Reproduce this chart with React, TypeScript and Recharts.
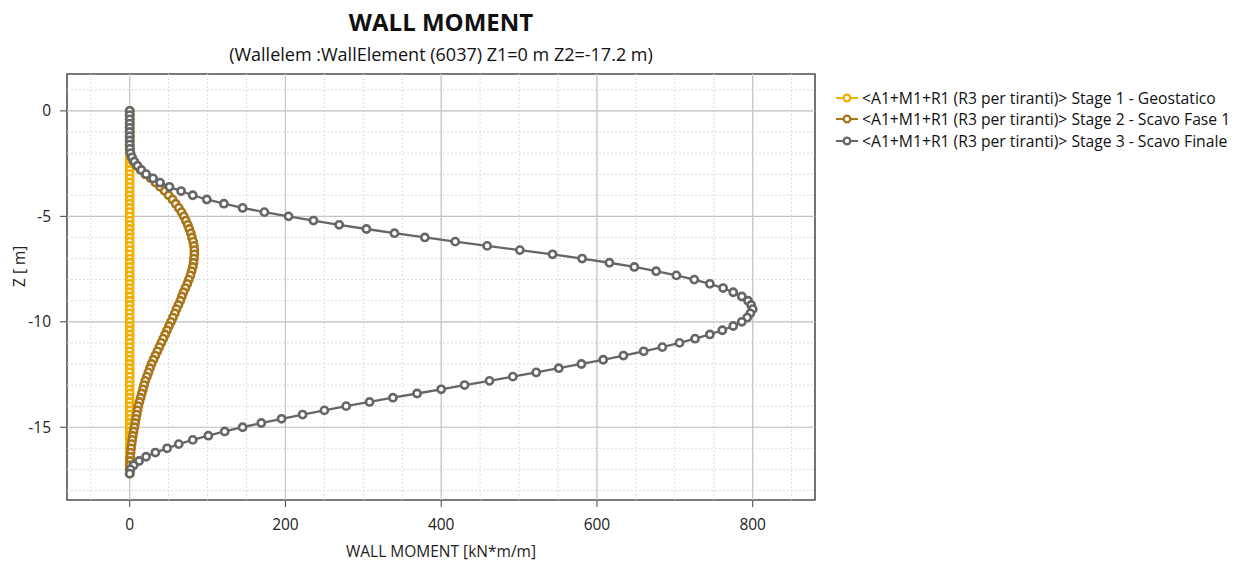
import { ScatterChart, Scatter, XAxis, YAxis, ReferenceLine, ReferenceArea } from "recharts";

// wall nodes depth (m)
const depth = [
  0, -0.2, -0.4, -0.6, -0.8, -1, -1.2, -1.4, -1.6, -1.8,
  -2, -2.2, -2.4, -2.6, -2.8, -3, -3.2, -3.4, -3.6, -3.8,
  -4, -4.2, -4.4, -4.6, -4.8, -5, -5.2, -5.4, -5.6, -5.8,
  -6, -6.2, -6.4, -6.6, -6.8, -7, -7.2, -7.4, -7.6, -7.8,
  -8, -8.2, -8.4, -8.6, -8.8, -9, -9.2, -9.4, -9.6, -9.8,
  -10, -10.2, -10.4, -10.6, -10.8, -11, -11.2, -11.4, -11.6, -11.8,
  -12, -12.2, -12.4, -12.6, -12.8, -13, -13.2, -13.4, -13.6, -13.8,
  -14, -14.2, -14.4, -14.6, -14.8, -15, -15.2, -15.4, -15.6, -15.8,
  -16, -16.2, -16.4, -16.6, -16.8, -17, -17.2,
];

const stage1 = [
  0, 0, 0, 0, 0, 0, 0, 0, 0, 0,
  0, 0, 0, 0, 0, 0, 0, 0, 0, 0,
  0, 0, 0, 0, 0, 0, 0, 0, 0, 0,
  0, 0, 0, 0, 0, 0, 0, 0, 0, 0,
  0, 0, 0, 0, 0, 0, 0, 0, 0, 0,
  0, 0, 0, 0, 0, 0, 0, 0, 0, 0,
  0, 0, 0, 0, 0, 0, 0, 0, 0, 0,
  0, 0, 0, 0, 0, 0, 0, 0, 0, 0,
  0, 0, 0, 0, 0, 0, 0,
];

const stage2 = [
  0, 0, 0, 0, 0, 0, 0, 0, 0, 0,
  0.5, 2, 5, 9, 14, 20, 27, 33, 39, 45,
  50, 55, 59, 63, 66.5, 69.5, 72, 74.5, 76.5, 78.5,
  80, 81.5, 82.5, 83, 83, 82.5, 82, 81, 79.5, 78,
  76, 74, 71.5, 69, 67, 65, 62.5, 60, 58, 55.5,
  53, 50.5, 48, 45.5, 43, 40.5, 38, 35.5, 33, 30.5,
  28, 26, 24, 22, 20, 18.5, 17, 15.5, 14, 12.5,
  11, 10, 9, 8, 7, 6, 5, 4, 3.2, 2.5,
  1.8, 1.2, 0.8, 0.4, 0.2, 0, 0,
];

const stage3 = [
  0, 0, 0, 0, 0, 0, 0, 0, 0, 0.3,
  1, 3, 6, 10, 15, 21, 30, 39, 51, 66,
  81, 99, 121, 145, 173, 204, 236, 269, 304, 340,
  379, 418, 459, 501, 543, 581, 616, 648, 676, 702,
  725, 745, 762, 775, 786, 794, 798, 800, 797, 793,
  786, 775, 761, 745, 726, 706, 684, 660, 634, 608,
  580, 551, 522, 492, 462, 430, 400, 369, 338, 308,
  278, 250, 222, 195, 169, 145, 122, 101, 81, 63,
  48, 33, 21, 12, 5, 1, 0,
];

const seriesNames = [
  "<A1+M1+R1 (R3 per tiranti)> Stage 1 - Geostatico",
  "<A1+M1+R1 (R3 per tiranti)> Stage 2 - Scavo Fase 1",
  "<A1+M1+R1 (R3 per tiranti)> Stage 3 - Scavo Finale",
];
const seriesColors = ["#EFB000", "#A8761A", "#666666"];

const xMajor = [0, 200, 400, 600, 800];
const xMinor = [-50, 0, 50, 100, 150, 200, 250, 300, 350, 400, 450, 500, 550, 600, 650, 700, 750, 800, 850];
const yMajor = [0, -5, -10, -15];
const yMinor = [1, 0, -1, -2, -3, -4, -5, -6, -7, -8, -9, -10, -11, -12, -13, -14, -15, -16, -17, -18];

const X_DOMAIN: [number, number] = [-80.5, 880];
const Y_DOMAIN: [number, number] = [-18.45, 1.75];

const FONT = "'Open Sans', 'Noto Sans', sans-serif";

const toPoints = (vals: number[]) => depth.map((z, i) => ({ m: vals[i], z }));
const allSeries = [stage1, stage2, stage3].map(toPoints);

const ringShape = (color: string) => (p: any) =>
  <circle cx={p.cx} cy={p.cy} r={3.6} fill="#fff" stroke={color} strokeWidth={2.6} />;

const App = () => {
  return (
    <div style={{ position: "relative", width: 1234, height: 555, fontFamily: FONT, color: "#111" }}>
      <div style={{ position: "absolute", left: 0, top: 0, width: 866, textAlign: "center", fontSize: 24, fontWeight: 700, lineHeight: "28px" }}>
        WALL MOMENT
      </div>
      <div style={{ position: "absolute", left: 0, top: 35, width: 866, textAlign: "center", fontSize: 18, lineHeight: "22px" }}>
        (Wallelem :WallElement (6037) Z1=0 m Z2=-17.2 m)
      </div>

      <ScatterChart width={1234} height={555} margin={{ top: 66, right: 427, bottom: 5, left: 9 }} style={{ fontFamily: FONT }}>
        <XAxis xAxisId="minor" type="number" dataKey="m" domain={X_DOMAIN} ticks={xMinor} allowDataOverflow height={0}
          tick={false} tickSize={4} axisLine={false} tickLine={{ stroke: "#444" }} />
        <YAxis yAxisId="minor" type="number" dataKey="z" domain={Y_DOMAIN} ticks={yMinor} allowDataOverflow width={0}
          tick={false} tickSize={4} axisLine={false} tickLine={{ stroke: "#444" }} />
        <XAxis type="number" dataKey="m" domain={X_DOMAIN} ticks={xMajor} allowDataOverflow height={58}
          tickSize={7} tickMargin={12} axisLine={false} tickLine={{ stroke: "#444" }}
          tick={{ fill: "#222", fontSize: 15.5 }}
          label={{ value: "WALL MOMENT [kN*m/m]", position: "insideBottom", offset: 1, fill: "#222", fontSize: 15.5 }} />
        <YAxis type="number" dataKey="z" domain={Y_DOMAIN} ticks={yMajor} allowDataOverflow width={50}
          tickSize={7} tickMargin={9} axisLine={false} tickLine={{ stroke: "#444" }}
          tick={{ fill: "#222", fontSize: 15.5 }}
          label={{ value: "Z [ m]", angle: -90, position: "insideLeft", offset: 2, fill: "#222", fontSize: 15.5 }} />

        {xMinor.map((v) => (
          <ReferenceLine key={"xm" + v} x={v} stroke="#dcdcdc" strokeDasharray="2 2" />
        ))}
        {yMinor.map((v) => (
          <ReferenceLine key={"ym" + v} y={v} stroke="#dcdcdc" strokeDasharray="2 2" />
        ))}
        {xMajor.map((v) => (
          <ReferenceLine key={"xM" + v} x={v} stroke="#c4c4c4" strokeWidth={1.2} />
        ))}
        {yMajor.map((v) => (
          <ReferenceLine key={"yM" + v} y={v} stroke="#c4c4c4" strokeWidth={1.2} />
        ))}

        {allSeries.map((pts, i) => (
          <Scatter
            key={i}
            name={seriesNames[i]}
            data={pts}
            line={{ stroke: seriesColors[i], strokeWidth: 2.3 }}
            lineType="joint"
            shape={ringShape(seriesColors[i])}
            isAnimationActive={false}
          />
        ))}

        <ReferenceArea x1={X_DOMAIN[0]} x2={X_DOMAIN[1]} y1={Y_DOMAIN[0]} y2={Y_DOMAIN[1]}
          fill="none" stroke="#505050" strokeWidth={1.6} />
      </ScatterChart>

      <div style={{ position: "absolute", left: 827, top: 79 }}>
        {seriesNames.map((name, i) => (
          <div key={name} style={{ display: "flex", alignItems: "center", height: 21.5, fontSize: 15.7, whiteSpace: "nowrap" }}>
            <svg width={24} height={12} style={{ marginRight: 3 }}>
              <line x1={1} y1={6} x2={23} y2={6} stroke={seriesColors[i]} strokeWidth={2} />
              <circle cx={12} cy={6} r={3.3} fill="#fff" stroke={seriesColors[i]} strokeWidth={2.3} />
            </svg>
            <span>{name}</span>
          </div>
        ))}
      </div>
    </div>
  );
};

export default App;
